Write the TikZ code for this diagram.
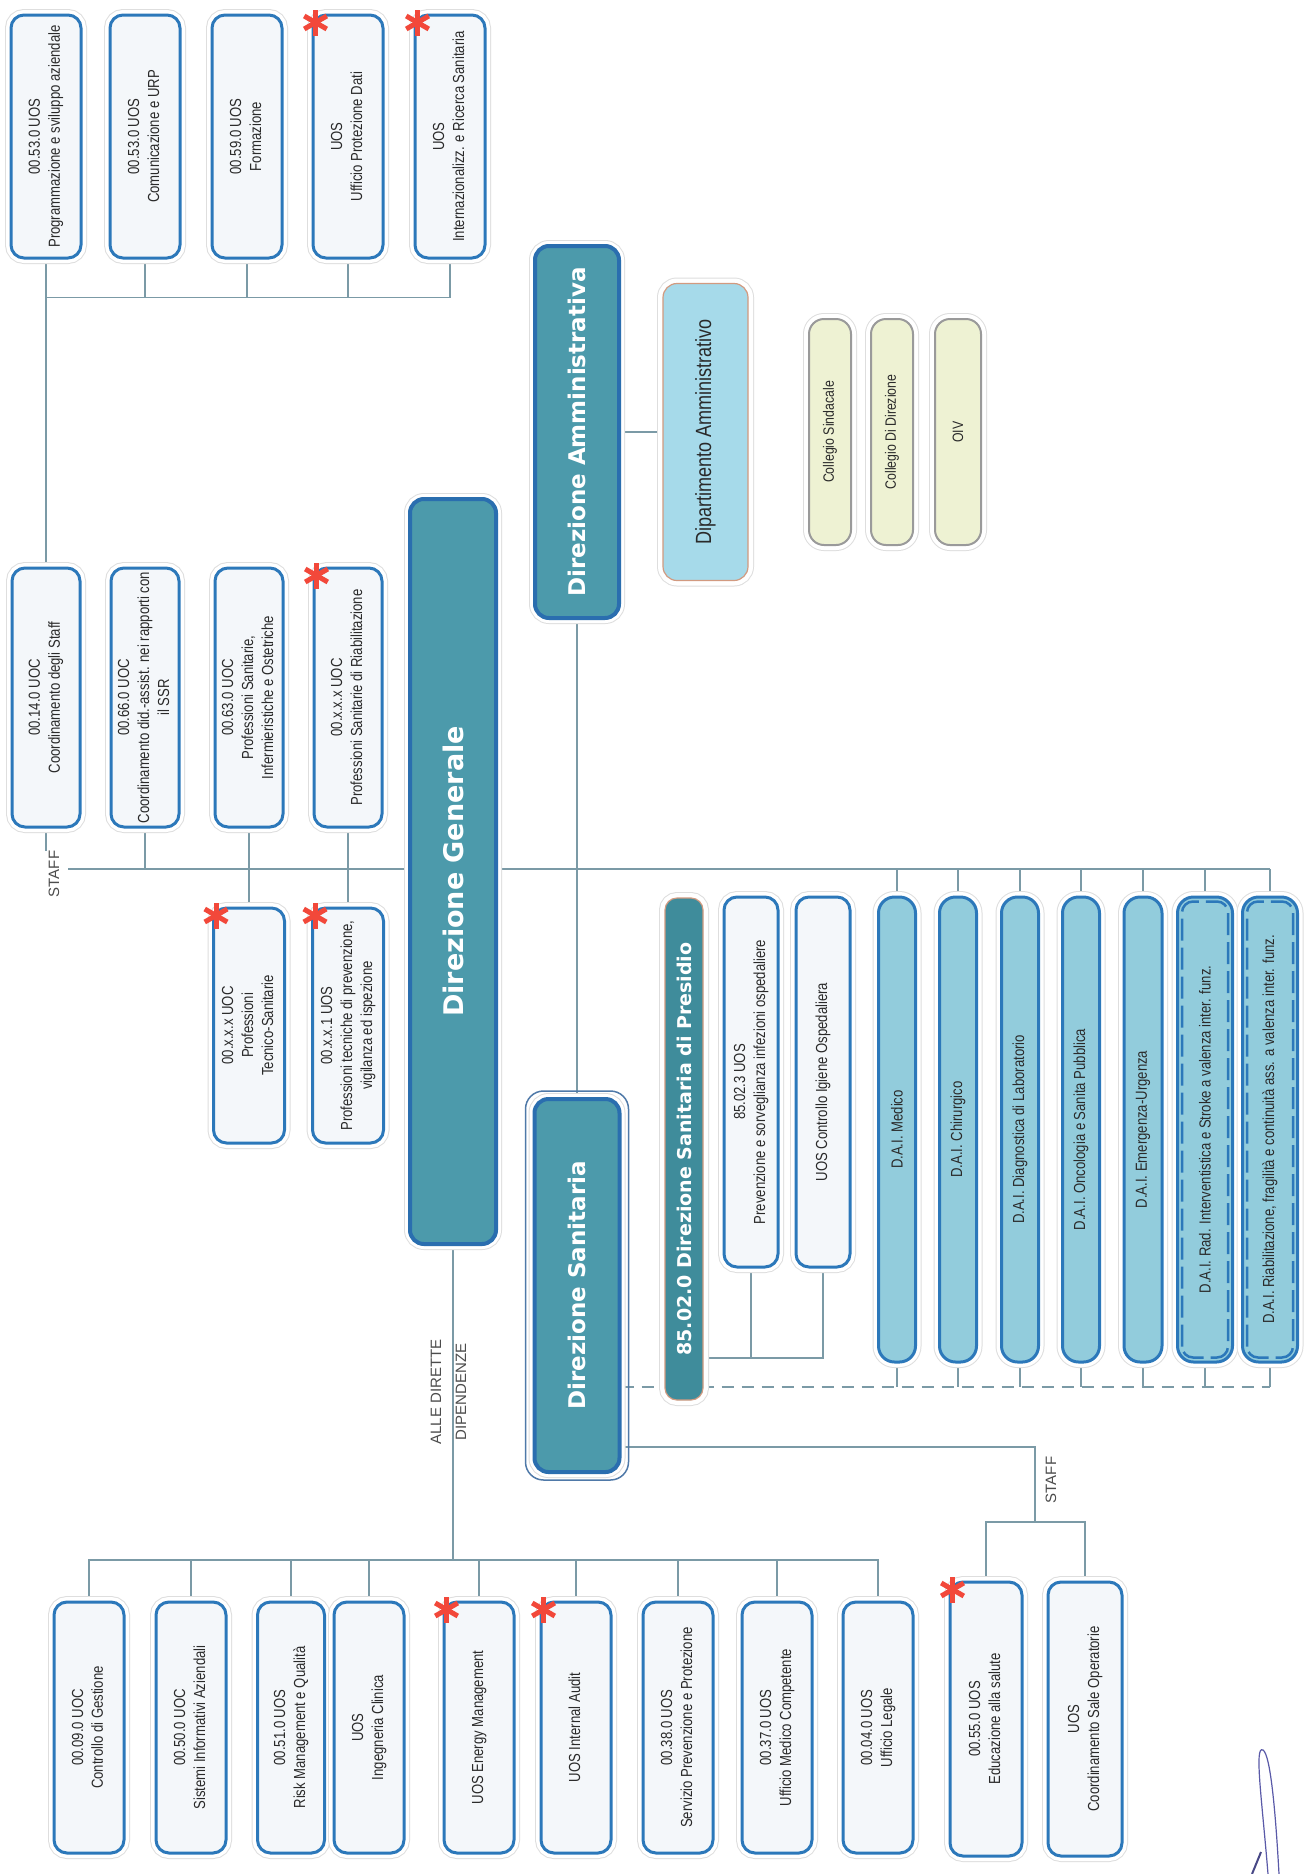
\documentclass[tikz,border=0pt]{standalone}
\usepackage{fontspec}
\setmainfont{Liberation Sans}
\newfontfamily\narrowfont{Liberation Sans}[FakeStretch=0.82]
\newfontfamily\headfont{DejaVu Sans}
\usepackage{graphicx}
\usepackage{xcolor}
\definecolor{OrgBlue}{HTML}{2C78BA}
\definecolor{OrgFill}{HTML}{F4F7FA}
\definecolor{OrgText}{HTML}{2A2A2A}
\definecolor{HeadTeal}{HTML}{4C9AAB}
\definecolor{HeadEdge}{HTML}{2A6EAF}
\definecolor{DaiFill}{HTML}{92CCDC}
\definecolor{PresFill}{HTML}{3F8C9B}
\definecolor{PresEdge}{HTML}{D29A80}
\definecolor{DipFill}{HTML}{A6DAEA}
\definecolor{OrganFill}{HTML}{EEF2D3}
\definecolor{OrganEdge}{HTML}{9A9A9A}
\definecolor{LinkGray}{HTML}{7B9AA6}
\definecolor{RingBlue}{HTML}{4F79A8}
\definecolor{StarRed}{HTML}{F2483A}
\definecolor{SigBlue}{HTML}{5A5AA8}
\usetikzlibrary{calc}
\pgfdeclarelayer{background}
\pgfsetlayers{background,main}
\newcommand{\vtxt}[1]{\rotatebox{90}{\begin{tabular}{@{}c@{}}#1\end{tabular}}}
\newcommand{\redstar}[1]{\foreach \a in {90,30,150}{\draw[starline] ($(#1.north west)+(4,9)$) ++(\a:13) -- ++(\a+180:26);}}

\begin{document}
\begin{tikzpicture}[x=1pt, y=-1pt,
  halo/.style={preaction={draw=black!13, line width=12pt}, preaction={draw=white, line width=10pt}},
  unit/.style={halo, draw=OrgBlue, line width=3pt, fill=OrgFill, rounded corners=13pt, inner sep=0pt,
    minimum width=70pt, text=OrgText, font=\narrowfont\fontsize{16}{20}\selectfont},
  head/.style={halo, draw=HeadEdge, line width=4pt, fill=HeadTeal, rounded corners=14pt, inner sep=0pt,
    text=white, font=\headfont\bfseries\fontsize{23}{28}\selectfont},
  dai/.style={halo, draw=OrgBlue, line width=3pt, fill=DaiFill, rounded corners=16pt, inner sep=0pt,
    minimum width=37pt, minimum height=465pt, text=OrgText, font=\narrowfont\fontsize{16}{20}\selectfont},
  daiinner/.style={draw=OrgBlue, line width=2.5pt, dash pattern=on 22pt off 7pt, rounded corners=11pt},
  organ/.style={halo, draw=OrganEdge, line width=2pt, fill=OrganFill, rounded corners=15pt, inner sep=0pt,
    minimum width=42pt, minimum height=226pt, text=OrgText, font=\narrowfont\fontsize{15}{18}\selectfont},
  lbl/.style={inner sep=0pt, text=black!70, font=\fontsize{15}{18}\selectfont},
  link/.style={draw=LinkGray, line width=1.4pt},
  dsring/.style={draw=RingBlue, line width=1.5pt, rounded corners=18pt},
  starline/.style={draw=StarRed, line width=5pt}]

\useasboundingbox (0,0) rectangle (1307,1874);
\begin{pgfonlayer}{background}
\fill[white] (0,0) rectangle (1307,1874);
\end{pgfonlayer}

% Staff UOS (top)
\node[unit, minimum height=243pt] (t1) at (46,136.5) {\vtxt{00.53.0 UOS\\Programmazione e sviluppo aziendale}};
\node[unit, minimum height=243pt] (t2) at (145,136.5) {\vtxt{00.53.0 UOS\\Comunicazione e URP}};
\node[unit, minimum height=243pt] (t3) at (247,136.5) {\vtxt{00.59.0 UOS\\Formazione}};
\node[unit, minimum height=243pt] (t4) at (348,136.5) {\vtxt{UOS\\Ufficio Protezione Dati}};
\node[unit, minimum height=243pt] (t5) at (450,136.5) {\vtxt{UOS\\Internazionalizz. e Ricerca Sanitaria}};

% Staff UOC
\node[unit, minimum width=68pt, minimum height=259pt] (s1) at (46,697.5) {\vtxt{00.14.0 UOC\\Coordinamento degli Staff}};
\node[unit, minimum width=68pt, minimum height=259pt] (s2) at (145,697.5) {\vtxt{00.66.0 UOC\\Coordinamento did.-assist. nei rapporti con\\il SSR}};
\node[unit, minimum width=68pt, minimum height=259pt] (s3) at (249,697.5) {\vtxt{00.63.0 UOC\\Professioni Sanitarie,\\Infermieristiche e Ostetriche}};
\node[unit, minimum width=68pt, minimum height=259pt] (s4) at (348,697.5) {\vtxt{00.x.x.x UOC\\Professioni Sanitarie di Riabilitazione}};
\node[unit, minimum width=71pt, minimum height=235pt] (g1) at (249,1025.5) {\vtxt{00.x.x.x UOC\\Professioni\\Tecnico-Sanitarie}};
\node[unit, minimum width=71pt, minimum height=235pt] (g2) at (348,1025.5) {\vtxt{00.x.x.1 UOS\\Professioni tecniche di prevenzione,\\vigilanza ed ispezione}};

% Direzioni
\node[head, minimum width=86pt, minimum height=745pt, font=\headfont\bfseries\fontsize{27}{32}\selectfont] (dg) at (453,871.5) {\rotatebox{90}{Direzione Generale}};
\node[head, minimum width=84pt, minimum height=372pt] (da) at (577,432) {\rotatebox{90}{Direzione Amministrativa}};
\node[head, minimum width=85pt, minimum height=373pt] (ds) at (577,1285.5) {\rotatebox{90}{Direzione Sanitaria}};
\draw[dsring] ($(ds.south west)+(-7,6)$) rectangle ($(ds.north east)+(7,-6)$);

\node[halo, draw=PresEdge, line width=1.2pt, fill=DipFill, rounded corners=14pt, inner sep=0pt,
  minimum width=85pt, minimum height=297pt, text=OrgText, font=\narrowfont\fontsize{22}{26}\selectfont]
  (dip) at (705.5,432) {\rotatebox{90}{Dipartimento Amministrativo}};
\node[organ] (o1) at (830,432) {\rotatebox{90}{Collegio Sindacale}};
\node[organ] (o2) at (892,432) {\rotatebox{90}{Collegio Di Direzione}};
\node[organ, minimum width=46pt] (o3) at (958,432) {\rotatebox{90}{OIV}};

% Presidio and D.A.I.
\node[halo, draw=PresEdge, line width=1.2pt, fill=PresFill, rounded corners=12pt, inner sep=0pt,
  minimum width=38pt, minimum height=502pt, text=white, font=\headfont\bfseries\fontsize{19}{23}\selectfont]
  (pres) at (684,1149) {\rotatebox{90}{85.02.0 Direzione Sanitaria di Presidio}};
\node[unit, minimum width=54pt, minimum height=370pt] (u1) at (751,1082) {\vtxt{85.02.3 UOS\\Prevenzione e sorveglianza infezioni ospedaliere}};
\node[unit, minimum width=54pt, minimum height=370pt] (u2) at (823,1082) {\vtxt{UOS Controllo Igiene Ospedaliera}};

\node[dai] (dai1) at (897,1129.5) {\rotatebox{90}{D.A.I. Medico}};
\node[dai] (dai2) at (958,1129.5) {\rotatebox{90}{D.A.I. Chirurgico}};
\node[dai] (dai3) at (1020,1129.5) {\rotatebox{90}{D.A.I. Diagnostica di Laboratorio}};
\node[dai] (dai4) at (1081,1129.5) {\rotatebox{90}{D.A.I. Oncologia e Sanita Pubblica}};
\node[dai, minimum width=38pt] (dai5) at (1143,1129.5) {\rotatebox{90}{D.A.I. Emergenza-Urgenza}};
\node[dai, minimum width=55pt] (dai6) at (1205,1129.5) {\rotatebox{90}{D.A.I. Rad. Interventistica e Stroke a valenza inter. funz.}};
\node[dai, minimum width=55pt] (dai7) at (1270,1129.5) {\rotatebox{90}{D.A.I. Riabilitazione, fragilità e continuità ass. a valenza inter. funz.}};
\draw[daiinner] ($(dai6.south west)+(6,-6)$) rectangle ($(dai6.north east)+(-6,6)$);
\draw[daiinner] ($(dai7.south west)+(6,-6)$) rectangle ($(dai7.north east)+(-6,6)$);

% Alle dirette dipendenze
\node[unit, minimum height=251pt] (b1) at (89,1727.5) {\vtxt{00.09.0 UOC\\Controllo di Gestione}};
\node[unit, minimum height=251pt] (b2) at (191,1727.5) {\vtxt{00.50.0 UOC\\Sistemi Informativi Aziendali}};
\node[unit, minimum width=67pt, minimum height=251pt] (b3) at (291,1727.5) {\vtxt{00.51.0 UOS\\Risk Management e Qualità}};
\node[unit, minimum height=251pt] (b4) at (369,1727.5) {\vtxt{UOS\\Ingegneria Clinica}};
\node[unit, minimum height=251pt] (b5) at (479,1727.5) {\vtxt{UOS Energy Management}};
\node[unit, minimum height=251pt] (b6) at (576,1727.5) {\vtxt{UOS Internal Audit}};
\node[unit, minimum height=251pt] (b7) at (678,1727.5) {\vtxt{00.38.0 UOS\\Servizio Prevenzione e Protezione}};
\node[unit, minimum height=251pt] (b8) at (777,1727.5) {\vtxt{00.37.0 UOS\\Ufficio Medico Competente}};
\node[unit, minimum height=251pt] (b9) at (878,1727.5) {\vtxt{00.04.0 UOS\\Ufficio Legale}};

% Staff of Direzione Sanitaria
\node[unit, minimum width=72pt, minimum height=274pt] (ed) at (986,1719) {\vtxt{00.55.0 UOS\\Educazione alla salute}};
\node[unit, minimum width=74pt, minimum height=274pt] (so) at (1085,1719) {\vtxt{UOS\\Coordinamento Sale Operatorie}};

% Labels
\node[lbl] (staffdg) at (54,874) {\rotatebox{90}{STAFF}};
\node[lbl] (staffds) at (1051,1480) {\rotatebox{90}{STAFF}};
\node[lbl] (alle) at (450,1392) {\vtxt{ALLE DIRETTE\\[7pt]DIPENDENZE}};

% Red marks
\redstar{t4} \redstar{t5} \redstar{s4} \redstar{g1} \redstar{g2}
\redstar{b5} \redstar{b6} \redstar{ed}

% Signature
\draw[draw=SigBlue, line width=1.2pt] (1268,1874) .. controls (1262,1800) and (1254,1745) .. (1263,1750)
  .. controls (1271,1755) and (1276,1820) .. (1279,1874);
\draw[draw=SigBlue!80!black, line width=2pt] (1252,1874) -- (1261,1852);

% Connectors
\coordinate (staffA) at (68,869);
\coordinate (busB) at (0,1560);
\coordinate (dashY) at (0,1387);
\coordinate (pb) at (0,1358);
\coordinate (dsS) at (0,1447);
\coordinate (dsJ) at (1035,1522);
\begin{pgfonlayer}{background}
\draw[link] (t1.south) |- ($(t5.south)+(0,38)$) -- (t5.south);
\foreach \n in {t2,t3,t4} \draw[link] (\n.south) -- ++(0,38);
\draw[link] (t1.south) -- (s1.north);
\draw[link] (s1.south) -- (s1.south |- staffdg.north);
\draw[link] (s2.south) -- (s2.south |- staffA);
\draw[link] (s3.south) -- (g1.north);
\draw[link] (s4.south) -- (g2.north);
\draw[link] (staffA) -- (staffA -| dai7.north);
\foreach \n in {dai1,dai2,dai3,dai4,dai5,dai6,dai7} {
  \draw[link] (\n.north) -- (\n.north |- staffA);
  \draw[link] (\n.south) -- (\n.south |- dashY);
}
\draw[link] (da.east |- dip.west) -- (dip.west);
\draw[link] (da.south) -- (ds.north);
\draw[link, dash pattern=on 12pt off 8pt] (ds.east |- dashY) -- (dashY -| dai7.south);
\draw[link] (pres.east |- pb) -| (u2.south);
\draw[link] (u1.south) -- (u1.south |- pb);
\draw[link] (ds.east |- dsS) -| (dsJ);
\draw[link] (ed.north) |- (dsJ) -| (so.north);
\draw[link] (dg.south) -- (dg.south |- busB);
\draw[link] (b1.north) |- (busB -| b9.north) -- (b9.north);
\foreach \n in {b2,b3,b4,b5,b6,b7,b8} \draw[link] (\n.north) -- (\n.north |- busB);
\end{pgfonlayer}
\end{tikzpicture}
\end{document}
